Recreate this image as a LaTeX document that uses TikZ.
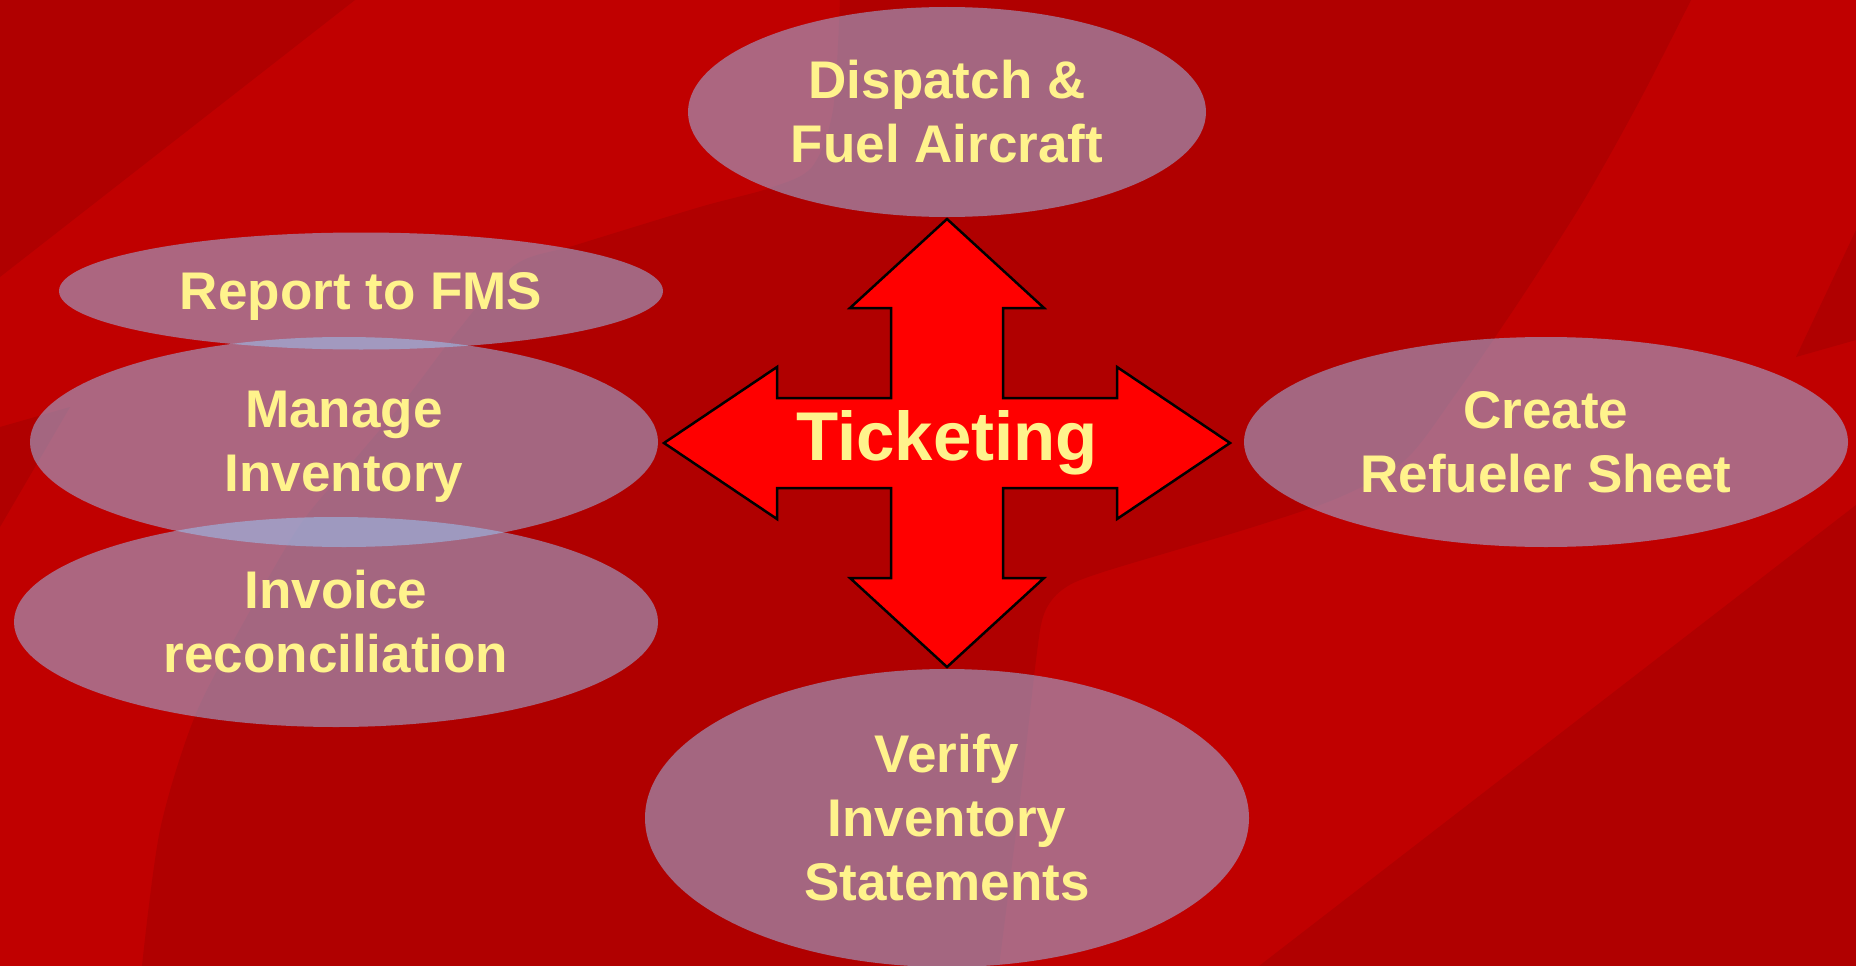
\documentclass[tikz,border=0pt]{standalone}
\usepackage{fontspec}
\setmainfont{Liberation Sans}
\usetikzlibrary{shapes.geometric}
\definecolor{bgbright}{RGB}{192,0,0}
\definecolor{bgdark}{RGB}{176,0,0}
\definecolor{bubble}{RGB}{153,204,255}
\definecolor{txt}{RGB}{255,243,140}
\definecolor{crossred}{RGB}{255,0,0}
\begin{document}
\begin{tikzpicture}[x=1pt,y=-1pt,
  bub/.style={ellipse, fill=bubble, fill opacity=0.5, text opacity=1, text=txt,
    inner sep=0pt, align=center, font=\bfseries\fontsize{53}{64}\selectfont},
  crossshape/.style={fill=crossred, draw=black, line width=2.5pt, line join=miter},
  bigtext/.style={text=txt, font=\bfseries\fontsize{69}{80}\selectfont, inner sep=0pt}]
\useasboundingbox (0,0) rectangle (1856,966);
% background
\fill[bgbright] (0,0) rectangle (1856,966);
\fill[bgdark] (0,0) -- (355,0) -- (0,277) -- cycle;
\fill[bgdark] (0,427) -- (70,407) -- (0,527) -- cycle;
\fill[bgdark] (1856,230) -- (1796,357) -- (1856,340) -- cycle;
\fill[bgdark] (1856,505) -- (1856,966) -- (1259,966) -- cycle;
\fill[bgdark] (840,0) -- (1691,0)
  -- plot[smooth] coordinates {(1691,0) (1640,100) (1584,200) (1520,300) (1455,395) (1405,460) (1340,497) (1250,528) (1100,573) (1062,590) (1044,614) (1036,660) (1020,800) (999,966)}
  -- (142,966)
  -- plot[smooth] coordinates {(142,966) (160,830) (195,716) (245,620) (300,525) (350,465) (405,400) (460,328) (515,265) (576,245) (700,207) (770,188) (812,167) (833,110) (840,0)}
  -- cycle;
% bubbles
\node[bub, minimum width=518pt, minimum height=210pt] (dispatch) at (947,112) {Dispatch \&\\Fuel Aircraft};
\node[bub, minimum width=604pt, minimum height=117pt] (report) at (361,291) {Re\smash{p}ort to FMS};
\node[bub, minimum width=628pt, minimum height=210pt] (manage) at (344,442) {Manage\\Inventor\smash{y}};
\node[bub, minimum width=644pt, minimum height=210pt] (invoice) at (336,622) {Invoice\\reconciliation};
\node[bub, minimum width=604pt, minimum height=210pt] (refuel) at (1546,442) {Create\\Refueler Sheet};
\node[bub, minimum width=604pt, minimum height=298pt] (verify) at (947,818) {Verify\\Inventory\\Statements};
% cross arrow
\draw[crossshape] (947,219) -- (1044,308) -- (1003,308) -- (1003,398) -- (1117,398) -- (1117,367)
  -- (1230,443) -- (1117,519) -- (1117,488) -- (1003,488) -- (1003,578) -- (1044,578)
  -- (947,667) -- (850,578) -- (891,578) -- (891,488) -- (777,488) -- (777,519)
  -- (664,443) -- (777,367) -- (777,398) -- (891,398) -- (891,308) -- (850,308) -- cycle;
\node[bigtext] (ticket) at (947,443) {Ticketing};
\end{tikzpicture}
\end{document}
